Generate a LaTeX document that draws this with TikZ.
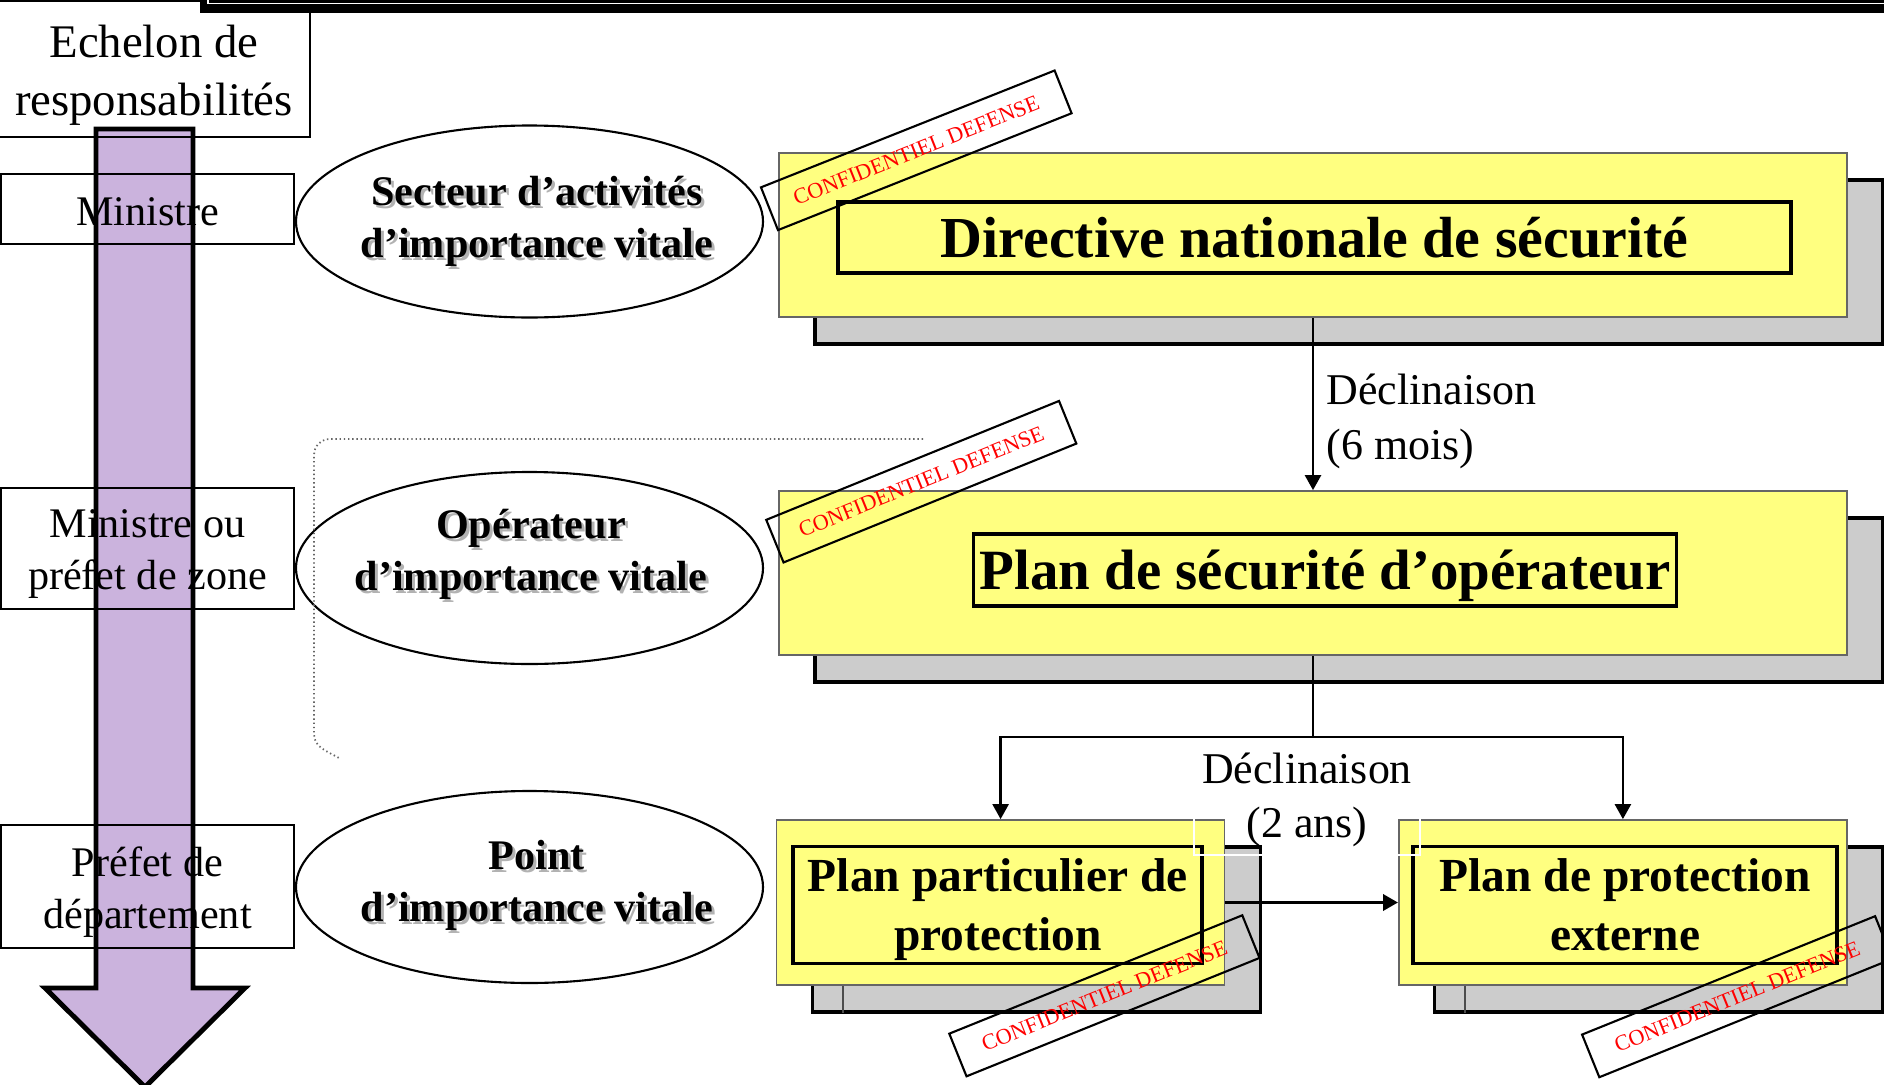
\documentclass[tikz,border=0pt]{standalone}
\usepackage{fontspec}
\setmainfont{Liberation Serif}
\usetikzlibrary{shapes.geometric,arrows.meta,shadows}
\definecolor{planyellow}{RGB}{255,255,128}
\definecolor{lilac}{RGB}{203,179,221}
\definecolor{shadowgrey}{RGB}{204,204,204}

\begin{document}
\begin{tikzpicture}[
    >={Triangle[length=1.5mm,width=1.6mm]},
    level/.style={rectangle, draw, line width=0.5pt, inner sep=0pt},
    leveltext/.style={align=center, inner sep=0pt, font=\fontsize{12}{14.8}\selectfont},
    oval/.style={ellipse, draw, line width=0.6pt, minimum width=4.67cm, minimum height=1.92cm, inner sep=0pt},
    ovaltext/.style={align=center, inner sep=0pt, font=\fontsize{12}{14.8}\selectfont\bfseries},
    plan/.style={rectangle, draw=black!60, line width=0.5pt, fill=planyellow, minimum height=1.64cm, inner sep=0pt,
      drop shadow={shadow xshift=0.36cm, shadow yshift=-0.27cm, fill=shadowgrey, draw=black, line width=0.9pt, opacity=1}},
    plantitle/.style={rectangle, draw, line width=1pt, inner sep=0pt},
    titletext/.style={align=center, inner sep=0pt},
    stamp/.style={rectangle, draw, line width=0.6pt, minimum width=3.16cm, minimum height=0.46cm, inner sep=0pt, text=red, font=\fontsize{6.3}{7}\selectfont},
    conn/.style={->, line width=0.7pt},
    lbl/.style={align=left, inner sep=0pt, font=\fontsize{12.5}{15.5}\selectfont}
  ]
    \useasboundingbox (0, 0) rectangle (18.84, -10.85);

    % Echelon arrow (fill below the boxes)
    \fill[lilac] (0.96, -1.29) -- (1.93, -1.29) -- (1.93, -9.88) -- (2.45, -9.88) -- (1.45, -10.87) -- (0.45, -9.88) -- (0.96, -9.88) -- cycle;

    % Levels
    \node[level, minimum width=3.12cm, minimum height=1.36cm] at (1.54, -0.69) (echelon) {};
    \node[leveltext, font=\fontsize{13.3}{16.5}\selectfont, yshift=-0.6mm] at (echelon) (echelonT) {Echelon de\\responsabilités};
    \node[level, minimum width=2.93cm, minimum height=0.70cm] at (1.475, -2.09) (ministre) {};
    \node[leveltext, yshift=-0.25mm] at (ministre) (ministreT) {Ministre};
    \node[level, minimum width=2.93cm, minimum height=1.21cm] at (1.475, -5.485) (zone) {};
    \node[leveltext, yshift=-0.6mm] at (zone) (zoneT) {Ministre ou\\préfet de zone};
    \node[level, minimum width=2.93cm, minimum height=1.23cm] at (1.475, -8.865) (dept) {};
    \node[leveltext, yshift=-0.6mm] at (dept) (deptT) {Préfet de\\département};

    \draw[line width=1.4pt, line join=miter] (0.96, -1.29) -- (1.93, -1.29) -- (1.93, -9.88) -- (2.45, -9.88) -- (1.45, -10.87) -- (0.45, -9.88) -- (0.96, -9.88) -- cycle;

    % top band
    \fill (2.00, 0.05) rectangle (18.9, -0.127);
    \draw[white, line width=0.3pt] (2.08, 0.05) -- (2.08, -0.033) -- (18.9, -0.033);

    % Ovals
    \node[oval] at (5.295, -2.215) (secteur) {};
    \node[oval] at (5.295, -5.68) (operateur) {};
    \node[oval] at (5.295, -8.87) (point) {};

    \node[ovaltext, text=black!30, xshift=0.3mm, yshift=-0.3mm] at (5.37, -2.216) (secteurS) {Secteur d’activités\\d’importance vitale};
    \node[ovaltext] at (5.37, -2.216) (secteurT) {Secteur d’activités\\d’importance vitale};
    \node[ovaltext, text=black!30, xshift=0.3mm, yshift=-0.3mm] at (5.31, -5.546) (operateurS) {Opérateur\\d’importance vitale};
    \node[ovaltext] at (5.31, -5.546) (operateurT) {Opérateur\\d’importance vitale};
    \node[ovaltext, text=black!30, xshift=0.3mm, yshift=-0.3mm] at (5.37, -8.856) (pointS) {Point\\d’importance vitale};
    \node[ovaltext] at (5.37, -8.856) (pointT) {Point\\d’importance vitale};

    % dotted frame
    \draw[black!60, line width=0.5pt, dash pattern=on 0.4pt off 0.8pt] (9.23, -4.39) -- (3.30, -4.39) to[out=180, in=90] (3.14, -4.55) -- (3.14, -7.34) to[out=-90, in=150] (3.39, -7.58);

    % Plans
    \node[plan, minimum width=10.68cm] at (13.13, -2.35) (dns) {};
    \node[plantitle, minimum width=9.53cm, minimum height=0.71cm] at (13.145, -2.375) (dnsT) {};
    \node[titletext, font=\fontsize{16.5}{19}\selectfont\bfseries] at (dnsT) (dnsL) {Directive nationale de sécurité};

    \node[plan, minimum width=10.68cm] at (13.13, -5.73) (dso) {};
    \node[plantitle, minimum width=7.03cm, minimum height=0.72cm] at (13.25, -5.70) (dsoT) {};
    \node[titletext, font=\fontsize{16.2}{19}\selectfont\bfseries, yshift=-0.6mm] at (dsoT) (dsoL) {Plan de sécurité d’opérateur};

    \node[plan, minimum width=4.48cm, minimum height=1.65cm] at (10.006, -9.025) (ppp) {};
    \node[plantitle, minimum width=4.09cm, minimum height=1.166cm] at (9.977, -9.05) (pppT) {};
    \node[titletext, font=\fontsize{13.5}{16.8}\selectfont\bfseries, yshift=-0.5mm] at (pppT) (pppL) {Plan particulier de\\protection};
    \node[plan, minimum width=4.48cm, minimum height=1.65cm] at (16.229, -9.025) (ppe) {};
    \node[plantitle, minimum width=4.24cm, minimum height=1.166cm] at (16.251, -9.05) (ppeT) {};
    \node[titletext, font=\fontsize{13.5}{16.8}\selectfont\bfseries] at (ppeT) (ppeL) {Plan de protection\\externe};

    \draw[black!70, line width=0.5pt] ([xshift=6.75mm]ppp.south west) -- ([xshift=6.75mm, yshift=-2.7mm]ppp.south west);
    \draw[black!70, line width=0.5pt] ([xshift=6.73mm]ppe.south west) -- ([xshift=6.73mm, yshift=-2.7mm]ppe.south west);

    % Stamps
    \node[stamp, rotate=21.7] at (9.163, -1.503) (cd1) {CONFIDENTIEL DEFENSE};
    \node[stamp, rotate=22.1] at (9.213, -4.817) (cd2) {CONFIDENTIEL DEFENSE};
    \node[stamp, rotate=22] at (11.044, -9.958) (cd3) {CONFIDENTIEL DEFENSE};
    \node[stamp, rotate=22] at (17.372, -9.967) (cd4) {CONFIDENTIEL DEFENSE};

    % Connectors
    \coordinate (split) at (13.13, -7.37);
    \draw[conn] (dns) -- (dso);
    \draw[line width=0.7pt] (dso.south) -- (split);
    \draw[conn] (split) -| (ppp.north);
    \draw[conn] (split) -| (ppe.north);
    \draw[conn, line width=1pt] (ppp) -- (ppe);

    \node[lbl, anchor=west] at (13.26, -4.215) (decl1) {Déclinaison\\(6 mois)};
    \node[lbl, align=center, draw=white, line width=0.6pt, minimum width=2.10cm, inner sep=0.8mm, anchor=south] at (13.07, -8.56) (decl2) {Déclinaison\\(2 ans)};

  \end{tikzpicture}
\end{document}
